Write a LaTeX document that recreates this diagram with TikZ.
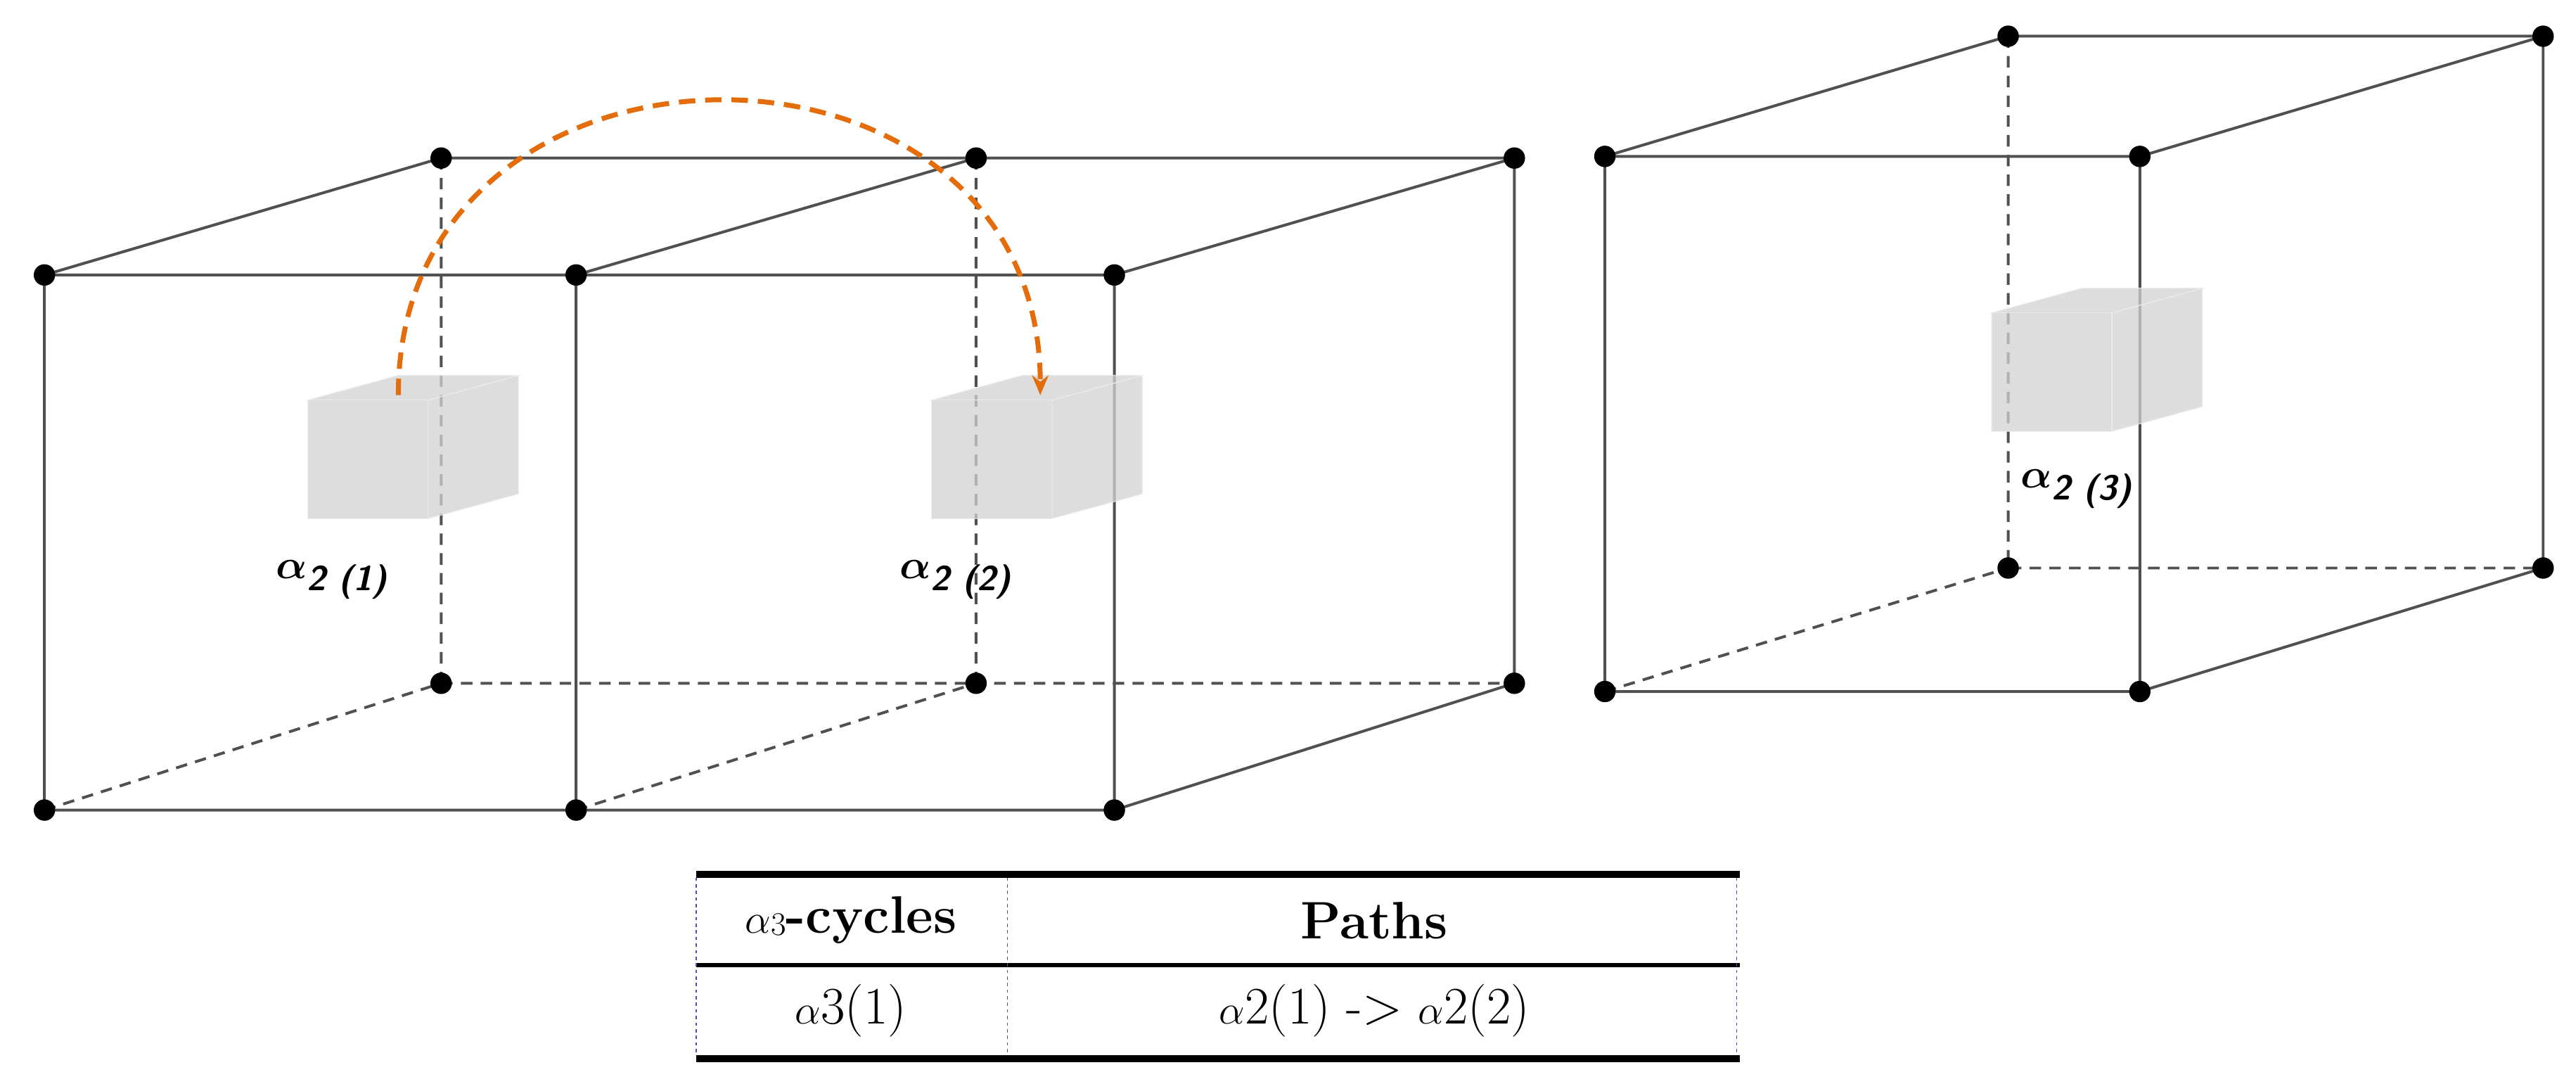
\documentclass[tikz,border=0pt]{standalone}
\usepackage{amsmath}
\usepackage{bm}
\usetikzlibrary{arrows.meta}
\definecolor{arcorange}{RGB}{228,108,10}
\definecolor{edgegray}{RGB}{80,80,80}
\tikzset{
  edge/.style={edgegray, line width=1.7pt},
  hidden/.style={edgegray, line width=1.7pt, dash pattern=on 7pt off 5pt},
  dot/.style={circle, fill=black, inner sep=0pt, minimum size=13pt},
  cell/.style={fill=gray!35, draw=gray!15, line width=0.6pt, opacity=0.75},
  lbl/.style={font=\fontsize{30}{34}\selectfont\sffamily},
  tab/.style={font=\fontsize{32}{36}\selectfont}
}
% little grey box: front top-left corner
\newcommand\graycell[2]{%
  \fill[cell] (#1+73,#2) -- (#1+128,#2-15) -- (#1+128,#2+57) -- (#1+73,#2+72) -- cycle;
  \fill[cell] (#1,#2) -- (#1+55,#2-15) -- (#1+128,#2-15) -- (#1+73,#2) -- cycle;
  \fill[cell] (#1,#2) rectangle (#1+73,#2+72);}
\begin{document}
\begin{tikzpicture}[x=1pt, y=-1pt]
  \useasboundingbox (0,0) rectangle (1565,658);
  % left pair of cubes
  \foreach \n/\x/\y in {fa/27/167, fb/350/167, fc/677/167, fd/27/492, fe/350/492, ff/677/492,
                        ba/268/96, bb/593/96, bc/920/96, bd/268/415, be/593/415, bf/920/415,
                        ra/975/95, rb/1300/95, rc/975/420, rd/1300/420,
                        sa/1220/22, sb/1545/22, sc/1220/345, sd/1545/345}
    \coordinate (\n) at (\x,\y);
  \draw[hidden] (ba) -- (bd) (bb) -- (be) (bd) -- (bf) (fd) -- (bd) (fe) -- (be);
  \draw[edge] (fa) -- (fc) -- (ff) -- (fd) -- cycle (fb) -- (fe)
    (ba) -- (bc) -- (bf) (fa) -- (ba) (fb) -- (bb) (fc) -- (bc) (ff) -- (bf);
  % right cube
  \draw[hidden] (sa) -- (sc) -- (sd) (rc) -- (sc);
  \draw[edge] (ra) -- (rb) -- (rd) -- (rc) -- cycle
    (sa) -- (sb) -- (sd) (ra) -- (sa) (rb) -- (sb) (rd) -- (sd);
  % grey cells
  \graycell{187}{243}
  \graycell{566}{243}
  \graycell{1210}{190}
  \node[lbl, anchor=west] (l1) at (164,352) {$\bm{\alpha}_{\textit{\textbf{2 (1)}}}$};
  \node[lbl, anchor=west] (l2) at (543,352) {$\bm{\alpha}_{\textit{\textbf{2 (2)}}}$};
  \node[lbl, anchor=west] (l3) at (1224,297) {$\bm{\alpha}_{\textit{\textbf{2 (3)}}}$};
  \foreach \n in {fa,fb,fc,fd,fe,ff,ba,bb,bc,bd,be,bf,ra,rb,rc,rd,sa,sb,sc,sd}
    \node[dot] at (\n) {};
  % path between the cells
  \coordinate (s1) at (242,240);
  \coordinate (s2) at (632,240);
  \draw[arcorange, line width=3pt, dash pattern=on 10pt off 6pt, -{Stealth[length=12pt,width=10pt]}]
    (s1) .. controls (242,2) and (632,2) .. (s2);
  % table
  \draw[line width=4pt] (423,531) -- (1057,531);
  \draw[line width=2.5pt] (423,586) -- (1057,586);
  \draw[line width=4pt] (423,643) -- (1057,643);
  \draw[blue!40!gray, line width=0.5pt, dash pattern=on 2pt off 2pt]
    (423,533) -- (423,641) (612,533) -- (612,641) (1055,533) -- (1055,641);
  \node[tab] (h1) at (517,559) {$\alpha$\raisebox{-1pt}{\fontsize{20}{22}\selectfont 3}\textbf{-cycles}};
  \node[tab] (h2) at (835,559) {\textbf{Paths}};
  \node[tab] (c1) at (517,614) {$\alpha$3(1)};
  \node[tab] (c2) at (835,614) {$\alpha$2(1) -> $\alpha$2(2)};
\end{tikzpicture}
\end{document}
